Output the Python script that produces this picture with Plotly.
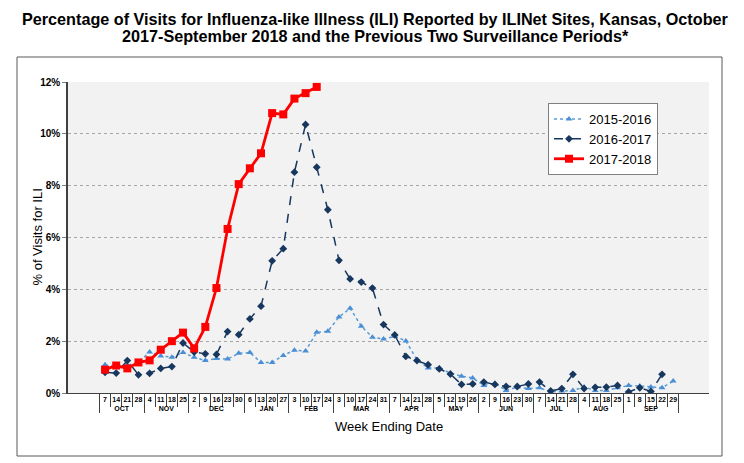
import plotly.graph_objects as go

# week-ending dates, Oct 2017 - Sep 2018
MONTHS = ["OCT", "NOV", "DEC", "JAN", "FEB", "MAR", "APR", "MAY", "JUN", "JUL", "AUG", "SEP"]
DAYS = [
    ["7", "14", "21", "28"],
    ["4", "11", "18", "25"],
    ["2", "9", "16", "23", "30"],
    ["6", "13", "20", "27"],
    ["3", "10", "17", "24"],
    ["3", "10", "17", "24", "31"],
    ["7", "14", "21", "28"],
    ["5", "12", "19", "26"],
    ["2", "9", "16", "23", "30"],
    ["7", "14", "21", "28"],
    ["4", "11", "18", "25"],
    ["1", "8", "15", "22", "29"],
]

ili_2015_16 = [1.09, 1.00, 1.07, 1.18, 1.58, 1.43, 1.38, 1.56, 1.38, 1.25, 1.33, 1.31, 1.53,
               1.56, 1.18, 1.18, 1.45, 1.65, 1.62, 2.34, 2.38, 2.93, 3.27, 2.58, 2.15, 2.08,
               2.19, 2.01, 1.28, 0.96, 0.96, 0.77, 0.65, 0.58, 0.29, 0.37, 0.10, 0.23, 0.17,
               0.20, 0.04, 0.08, 0.10, 0.23, 0.10, 0.10, 0.20, 0.29, 0.27, 0.23, 0.20, 0.46]
ili_2016_17 = [0.80, 0.77, 1.25, 0.70, 0.76, 0.95, 1.02, 1.93, 1.58, 1.51, 1.49, 2.37, 2.25,
               2.86, 3.35, 5.10, 5.57, 8.52, 10.36, 8.71, 7.07, 5.12, 4.40, 4.28, 4.05, 2.64,
               2.24, 1.41, 1.25, 1.09, 0.93, 0.73, 0.33, 0.35, 0.42, 0.33, 0.25, 0.25, 0.35,
               0.42, 0.08, 0.17, 0.72, 0.17, 0.22, 0.23, 0.29, 0.04, 0.20, 0.06, 0.72]
ili_2017_18 = [0.90, 1.06, 0.95, 1.18, 1.26, 1.67, 2.00, 2.33, 1.72, 2.55, 4.05, 6.33, 8.06,
               8.67, 9.25, 10.80, 10.75, 11.36, 11.57, 11.81]

TITLE_1 = "Percentage of Visits for Influenza-like Illness (ILI) Reported by ILINet Sites, Kansas, October"
TITLE_2 = "2017-September 2018 and the Previous Two Surveillance Periods*"

month_lvl = [m for m, ds in zip(MONTHS, DAYS) for _ in ds]
day_lvl = [d for ds in DAYS for d in ds]

FONT = "Liberation Sans, Arial, sans-serif"

# page body has an 8px margin, so the figure sits at (8, 8) in the window
OFF = 8
W, H = 744 - OFF, 463 - OFF
# plot area in window pixels: x 68..709, y 82..393
PL, PR, PT, PB = 68 - OFF, 709 - OFF, 82 - OFF, 393 - OFF


def px_x(v):
    return (v - OFF - PL) / (PR - PL)


def px_y(v):
    return (PB - (v - OFF)) / (PB - PT)


def xcats(n):
    return [month_lvl[:n], day_lvl[:n]]


fig = go.Figure()
fig.add_trace(go.Scatter(
    x=xcats(len(ili_2015_16)), y=ili_2015_16, name="2015-2016", mode="lines+markers",
    line=dict(color="#5b9bd5", width=1.5, dash="dot"),
    marker=dict(symbol="triangle-up", size=6, color="#4a8fd6"),
))
fig.add_trace(go.Scatter(
    x=xcats(len(ili_2016_17)), y=ili_2016_17, name="2016-2017", mode="lines+markers",
    line=dict(color="#17375e", width=1.5, dash="dash"),
    marker=dict(symbol="diamond", size=6, color="#17375e"),
))
fig.add_trace(go.Scatter(
    x=xcats(len(ili_2017_18)), y=ili_2017_18, name="2017-2018", mode="lines+markers",
    line=dict(color="#ff0000", width=2.8),
    marker=dict(symbol="square", size=8, color="#ff0000"),
))

# outer chart frame
fig.add_shape(type="rect", xref="paper", yref="paper",
              x0=px_x(17), x1=px_x(722), y0=px_y(456), y1=px_y(57),
              line=dict(color="#595959", width=1), layer="below")

for txt, yc in [(TITLE_1, 19), (TITLE_2, 36)]:
    fig.add_annotation(
        text=txt, xref="paper", yref="paper", x=px_x(375), y=px_y(yc),
        xanchor="center", yanchor="middle", showarrow=False,
        font=dict(size=16.2, family=FONT, weight="bold"),
    )
fig.add_annotation(
    text="% of Visits for ILI", xref="paper", yref="paper", x=px_x(37), y=0.5,
    xanchor="center", yanchor="middle", textangle=-90, showarrow=False,
    font=dict(size=13, family=FONT),
)
fig.add_annotation(
    text="Week Ending Date", xref="paper", yref="paper", x=0.5, y=px_y(426),
    xanchor="center", yanchor="middle", showarrow=False,
    font=dict(size=13, family=FONT),
)

fig.update_layout(
    width=W, height=H,
    margin=dict(l=PL, r=W - PR, t=PT, b=H - PB, autoexpand=False),
    paper_bgcolor="white", plot_bgcolor="#f2f2f2",
    font=dict(family=FONT, color="black"),
    showlegend=True,
    legend=dict(
        x=px_x(548), y=px_y(103), xanchor="left", yanchor="top",
        bgcolor="white", bordercolor="#808080", borderwidth=1,
        font=dict(size=13), tracegroupgap=0, itemwidth=30,
    ),
    xaxis=dict(
        type="multicategory", automargin=False,
        showline=True, linecolor="#404040", linewidth=1,
        ticks="outside", tickson="boundaries", ticklen=13, tickcolor="#404040",
        showdividers=True, dividercolor="#404040", dividerwidth=1,
        tickfont=dict(size=7, weight="bold"), tickangle=0,
        showgrid=False,
    ),
    yaxis=dict(
        range=[0, 12], dtick=2, ticksuffix="%", automargin=False,
        showline=True, linecolor="#404040", linewidth=1.5,
        ticks="outside", ticklen=4, tickcolor="#808080",
        showgrid=True, gridcolor="#a6a6a6", griddash="dot", gridwidth=1,
        zeroline=False,
        tickfont=dict(size=10, weight="bold"),
    ),
)

fig.write_html("out.html")
